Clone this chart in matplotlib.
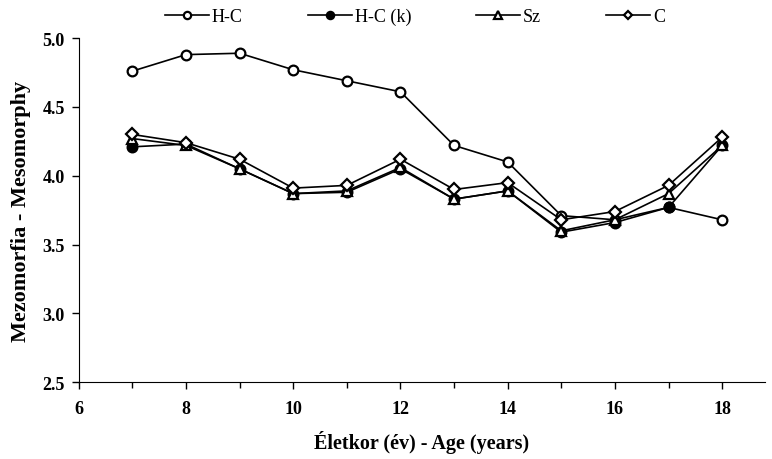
import matplotlib.pyplot as plt
import numpy as np

# Données
age = [7, 8, 9, 10, 11, 12, 13, 14, 15, 16, 17, 18]
hc = [4.76, 4.88, 4.89, 4.77, 4.69, 4.61, 4.22, 4.10, 3.71, 3.68, 3.77, 3.68]
hc_k = [4.21, 4.23, 4.05, 3.87, 3.88, 4.05, 3.83, 3.89, 3.59, 3.66, 3.77, 4.22]
sz = [4.27, 4.22, 4.05, 3.87, 3.89, 4.06, 3.83, 3.89, 3.60, 3.68, 3.87, 4.22]
c = [4.30, 4.24, 4.12, 3.91, 3.93, 4.12, 3.90, 3.95, 3.68, 3.74, 3.93, 4.28]

plt.rcParams['font.family'] = ['Liberation Serif', 'DejaVu Serif']

fig = plt.figure(figsize=(7.72, 4.6), dpi=100)
ax = fig.add_axes([0.102, 0.167, 0.889, 0.748])

style = dict(color='black', linewidth=1.2, markersize=7, markeredgewidth=1.6)
ax.plot(age, hc, marker='o', markerfacecolor='white', label='H-C', **style)
ax.plot(age, hc_k, marker='o', markerfacecolor='black', label='H-C (k)', **style)
ax.plot(age, sz, marker='^', markerfacecolor='white', label='Sz', **style)
ax.plot(age, c, marker='D', markerfacecolor='white', markersize=6, label='C',
        color='black', linewidth=1.2, markeredgewidth=1.6)

ax.set_xlim(6, 18.8)
ax.set_ylim(2.5, 5.0)
ax.set_xticks(np.arange(6, 19, 2))
ax.set_xticks(np.arange(7, 19, 2), minor=True)
ax.set_yticks(np.arange(2.5, 5.01, 0.5))
ax.yaxis.set_major_formatter(plt.FormatStrFormatter('%.1f'))
ax.spines['top'].set_visible(False)
ax.spines['right'].set_visible(False)
ax.tick_params(axis='both', direction='out', length=5, width=1, labelsize=13)
ax.tick_params(axis='y', pad=5)
ax.tick_params(axis='x', pad=8)
ax.tick_params(axis='x', which='minor', direction='out', length=4, width=1)
for lab in ax.get_xticklabels() + ax.get_yticklabels():
    lab.set_fontweight('bold')

ax.set_xlabel('Életkor (év) - Age (years)', fontsize=14.5, fontweight='bold', labelpad=9)
ax.set_ylabel('Mezomorfia - Mesomorphy', fontsize=16, fontweight='bold', labelpad=8)

ax.legend(loc='lower center', bbox_to_anchor=(0.49, 1.0), ncol=4, frameon=False,
          fontsize=13, handlelength=2.45, columnspacing=3.6, handletextpad=0.15,
          borderaxespad=0.3, markerscale=0.75)

fig.savefig('out.png', dpi=100)
